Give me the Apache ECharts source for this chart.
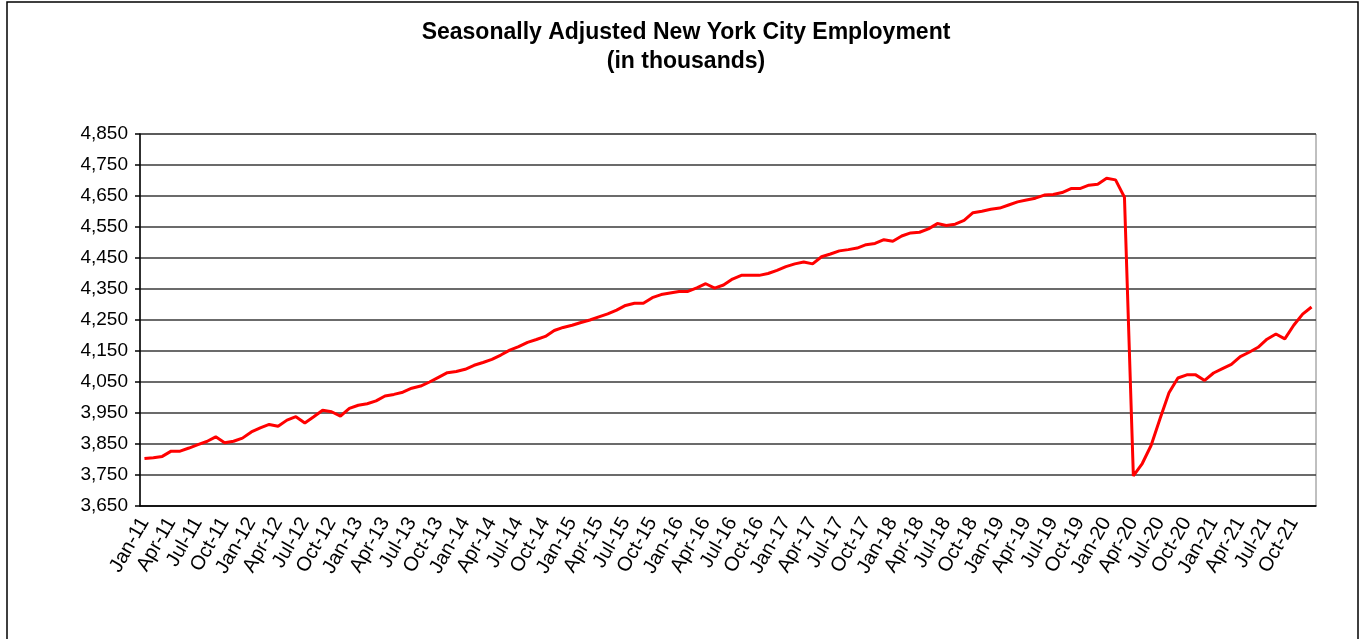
<!DOCTYPE html>
<html>
<head>
<meta charset="utf-8">
<title>Seasonally Adjusted New York City Employment</title>
<script src="https://cdn.jsdelivr.net/npm/echarts@6/dist/echarts.min.js"></script>
<style>
  html, body { margin: 0; padding: 0; background: #fff; }
  #chart { width: 1364px; height: 639px; }
</style>
</head>
<body>
<div id="chart"></div>
<script>
// Monthly employment, thousands.
const MONTHS = ['Jan', 'Feb', 'Mar', 'Apr', 'May', 'Jun', 'Jul', 'Aug', 'Sep', 'Oct', 'Nov', 'Dec'];
const YEARS = ['11', '12', '13', '14', '15', '16', '17', '18', '19', '20', '21'];

const emp2011 = [3803, 3806, 3810, 3827, 3827, 3837, 3848, 3858, 3873, 3854, 3859, 3869];
const emp2012 = [3889, 3902, 3913, 3907, 3927, 3938, 3918, 3938, 3959, 3954, 3940, 3965];
const emp2013 = [3975, 3980, 3989, 4005, 4010, 4017, 4030, 4037, 4050, 4065, 4080, 4084];
const emp2014 = [4091, 4104, 4113, 4123, 4137, 4153, 4164, 4178, 4187, 4197, 4216, 4226];
const emp2015 = [4233, 4242, 4250, 4260, 4270, 4282, 4297, 4304, 4304, 4322, 4332, 4337];
const emp2016 = [4342, 4342, 4354, 4367, 4353, 4363, 4382, 4394, 4394, 4394, 4400, 4410];
const emp2017 = [4422, 4431, 4437, 4431, 4454, 4463, 4473, 4477, 4482, 4493, 4497, 4509];
const emp2018 = [4504, 4521, 4531, 4533, 4544, 4561, 4555, 4559, 4571, 4596, 4601, 4607];
const emp2019 = [4611, 4621, 4631, 4637, 4643, 4653, 4655, 4661, 4674, 4674, 4685, 4688];
const emp2020 = [4707, 4702, 4646, 3747, 3787, 3846, 3932, 4015, 4063, 4073, 4073, 4055];
const emp2021 = [4079, 4093, 4107, 4132, 4146, 4162, 4188, 4205, 4189, 4233, 4269, 4292];

const Y_MIN = 3650;
const Y_MAX = 4850;
const Y_STEP = 100;

// category labels like "Jan-11"
const categories = [];
YEARS.forEach((yy) => MONTHS.forEach((m) => categories.push(m + '-' + yy)));

const employment = [].concat(
  emp2011, emp2012, emp2013, emp2014, emp2015, emp2016,
  emp2017, emp2018, emp2019, emp2020, emp2021,
);

const FONT = '"Liberation Sans", Arial, sans-serif';

const chart = echarts.init(document.getElementById('chart'), null, { renderer: 'canvas' });

chart.setOption({
  animation: false,
  backgroundColor: '#fff',
  textStyle: { fontFamily: FONT, color: '#000' },
  // title is a graphic so it can sit a few px right of the canvas centre, as in the source
  graphic: [
    {
      type: 'rect',
      shape: { x: 7, y: 2, width: 1351, height: 700 },
      style: { fill: 'none', stroke: '#000', lineWidth: 1.5 },
      silent: true,
    },
    {
      type: 'text',
      x: 686,
      y: 33,
      style: {
        text: 'Seasonally Adjusted New York City Employment',
        font: 'bold 23px ' + FONT,
        fill: '#000',
        align: 'center',
        verticalAlign: 'middle',
      },
    },
    {
      type: 'text',
      x: 686,
      y: 62,
      style: {
        text: '(in thousands)',
        font: 'bold 23px ' + FONT,
        fill: '#000',
        align: 'center',
        verticalAlign: 'middle',
      },
    },
  ],
  grid: {
    left: 140,
    right: 48,
    top: 134,
    bottom: 133,
    show: true,
    borderColor: '#808080',
    borderWidth: 1,
  },
  xAxis: {
    type: 'category',
    data: categories,
    boundaryGap: true,
    axisLine: { lineStyle: { color: '#000', width: 1.5 } },
    axisTick: { interval: 2, length: 6, lineStyle: { color: '#000', width: 1.5 } },
    axisLabel: {
      interval: 2,
      rotate: 60,
      margin: 13,
      fontSize: 20,
      fontFamily: FONT,
      color: '#000',
    },
    splitLine: { show: false },
  },
  yAxis: {
    type: 'value',
    min: Y_MIN,
    max: Y_MAX,
    interval: Y_STEP,
    axisLine: { show: true, lineStyle: { color: '#000', width: 1.5 } },
    axisTick: { show: true, length: 5, lineStyle: { color: '#000', width: 1.5 } },
    axisLabel: {
      margin: 12,
      fontSize: 19,
      fontFamily: FONT,
      color: '#000',
      formatter: (v) => v.toLocaleString('en-US'),
    },
    splitLine: { lineStyle: { color: '#3a3a3a', width: 1.5 } },
  },
  series: [{
    type: 'line',
    data: employment,
    showSymbol: false,
    symbol: 'none',
    lineStyle: { color: '#ff0000', width: 3 },
    itemStyle: { color: '#ff0000' },
  }],
});
</script>
</body>
</html>
